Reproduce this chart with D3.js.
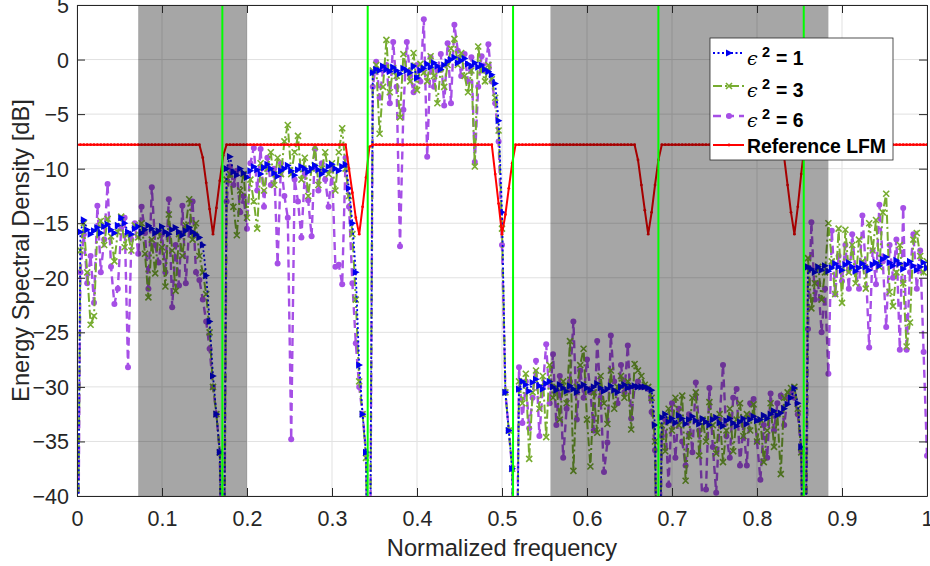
<!DOCTYPE html>
<html><head><meta charset="utf-8">
<script src="https://cdn.jsdelivr.net/npm/d3@7"></script>
<style>body{margin:0;background:#fff}</style>
</head><body><svg id="chart" width="930" height="566"></svg>
<script>
// ---------------- DATA ----------------
const freqStep = 0.004;
const bandStartFreq = [0.000, 0.176, 0.348, 0.520, 0.688, 0.860];

const eps1 = [
 [-60,-15.8,-14.7,-15.6,-16.0,-15.7,-15.4,-15.9,-15.3,-15.1,-15.6,-15.9,-15.2,-14.5,-15.0,-15.8,-16.0,-15.5,-15.3,-15.9,-15.6,-15.2,-15.5,-15.9,-15.7,-15.3,-15.8,-16.0,-15.6,-15.4,-15.8,-16.1,-15.7,-15.4,-15.8,-16.0,-16.3,-17.0,-19.8,-24.0,-29.0,-32.5,-36.0,-60],
 [-10.0,-8.9,-10.3,-10.6,-10.0,-10.4,-10.8,-10.2,-9.8,-10.1,-10.5,-9.9,-9.6,-10.0,-10.4,-10.7,-10.2,-10.0,-9.7,-10.2,-10.6,-10.1,-9.8,-10.0,-10.3,-10.0,-9.7,-10.1,-10.5,-10.2,-9.8,-9.6,-10.0,-10.2,-9.8,-9.6,-11.8,-15.0,-19.5,-28.0,-32.5,-36.0,-60],
 [-1.2,-0.9,-1.0,-0.6,-0.9,-1.1,-0.7,-1.0,-1.3,-0.8,-1.0,-1.2,-0.6,-1.7,-1.0,-0.8,-0.4,-0.7,-0.3,-0.6,-0.9,-0.5,-0.2,0.0,0.2,-0.3,-0.1,0.1,-0.4,-0.6,-0.3,-0.7,-0.5,-0.9,-1.1,-1.4,-2.2,-5.6,-14.0,-30.5,-34.0,-37.5,-60],
 [-30.2,-29.5,-29.8,-30.4,-29.6,-29.3,-29.9,-30.2,-29.7,-29.5,-30.0,-30.3,-29.8,-30.1,-30.4,-29.9,-30.2,-30.5,-30.0,-29.8,-30.1,-30.3,-30.0,-29.7,-30.1,-30.4,-30.2,-29.9,-30.3,-30.5,-30.0,-29.8,-30.1,-30.0,-29.9,-30.0,-30.0,-30.0,-30.1,-30.3,-33.5,-60],
 [-32.8,-32.5,-33.2,-32.9,-33.3,-32.6,-32.9,-33.4,-33.0,-32.7,-33.1,-33.4,-32.9,-33.2,-33.5,-33.0,-32.8,-33.3,-33.6,-33.1,-32.9,-33.3,-33.6,-33.2,-32.9,-33.4,-33.0,-32.7,-33.1,-33.0,-32.6,-32.9,-32.5,-32.2,-32.6,-32.4,-32.0,-31.6,-31.0,-30.1,-31.5,-35.5,-60],
 [-19.0,-19.2,-19.5,-19.0,-19.3,-18.9,-19.4,-19.1,-18.7,-19.0,-19.3,-18.8,-18.6,-19.0,-19.4,-19.1,-18.7,-19.0,-19.3,-18.8,-18.6,-18.9,-18.3,-18.1,-18.6,-18.9,-18.4,-18.7,-19.2,-18.8,-18.5,-18.9,-19.3,-19.0,-18.6,-19.1]
];

const eps3 = [
 [-60,-17.5,-15.0,-19.5,-24.3,-23.5,-15.5,-14.8,-17.0,-14.6,-16.2,-18.5,-15.8,-14.4,-17.2,-16.0,-17.5,-15.2,-16.3,-15.0,-17.8,-21.8,-16.5,-19.6,-15.8,-17.2,-20.8,-14.2,-17.5,-21.2,-16.0,-18.0,-15.2,-12.8,-16.5,-15.0,-18.0,-19.5,-21.5,-25.0,-30.0,-32.5,-36.0,-60],
 [-11.0,-10.5,-13.5,-16.1,-12.0,-10.5,-14.5,-11.0,-13.0,-15.5,-9.5,-12.0,-10.0,-8.5,-11.5,-9.0,-10.5,-7.5,-6.0,-10.5,-8.5,-7.0,-11.0,-9.0,-12.5,-10.0,-8.0,-11.5,-10.0,-8.5,-10.5,-9.5,-12.0,-8.5,-6.3,-10.0,-12.5,-16.0,-22.0,-29.5,-32.5,-36.5,-60],
 [-1.0,-0.5,-6.8,-2.5,1.8,-3.0,-0.8,-1.5,-5.3,0.5,-1.0,-2.0,0.6,-2.8,-0.4,-1.2,-2.0,0.3,-1.5,-4.0,-0.8,-2.5,-0.5,1.0,1.9,-0.5,0.6,-1.5,-3.0,-1.0,-9.8,1.2,-1.0,-2.0,-0.5,-1.8,-3.5,-6.5,-15.5,-30.5,-34.0,-37.5,-60],
 [-29.5,-31.5,-28.8,-36.6,-30.5,-28.5,-32.0,-29.0,-34.6,-28.0,-31.0,-30.0,-33.0,-29.5,-31.5,-25.8,-37.7,-30.0,-28.0,-26.5,-33.0,-37.3,-30.5,-34.2,-29.0,-31.5,-33.4,-28.5,-32.0,-30.0,-29.0,-31.0,-29.5,-33.9,-27.9,-28.5,-29.0,-29.8,-30.0,-31.0,-35.0,-60],
 [-33.5,-35.9,-32.0,-34.0,-31.0,-33.5,-30.8,-38.6,-34.5,-31.0,-30.5,-36.3,-33.0,-35.0,-31.4,-33.5,-36.1,-32.5,-36.9,-34.0,-32.0,-35.9,-33.0,-31.5,-34.5,-32.5,-34.0,-31.6,-35.0,-33.0,-36.9,-34.0,-31.5,-35.5,-32.5,-38.0,-31.0,-30.5,-30.1,-30.0,-32.0,-36.0,-60],
 [-18.2,-22.8,-20.5,-19.0,-22.0,-19.5,-15.0,-18.5,-21.5,-15.5,-22.3,-15.6,-19.5,-17.0,-20.5,-16.5,-18.5,-21.0,-15.0,-17.5,-14.7,-19.0,-14.0,-12.3,-21.3,-22.6,-19.5,-17.0,-20.5,-26.3,-24.1,-16.5,-15.9,-18.0,-19.5,-18.5]
];

const eps6 = [
 [-60,-19.5,-16.0,-20.5,-18.0,-22.3,-13.4,-19.5,-16.5,-11.4,-19.0,-22.4,-21.0,-15.5,-14.5,-28.2,-16.5,-15.0,-17.8,-13.5,-15.9,-21.0,-11.7,-17.0,-18.6,-16.0,-19.5,-12.8,-22.7,-17.0,-20.7,-13.4,-20.5,-15.5,-13.0,-19.5,-20.2,-22.0,-24.0,-26.5,-30.0,-32.5,-36.0,-60],
 [-13.0,-9.8,-11.5,-10.2,-14.0,-12.5,-15.5,-9.5,-8.1,-12.0,-8.2,-13.5,-9.0,-11.5,-10.0,-18.7,-9.5,-12.5,-14.5,-34.8,-11.0,-13.0,-16.3,-10.5,-12.9,-16.2,-8.2,-12.0,-9.5,-11.0,-13.5,-10.0,-19.0,-18.8,-20.6,-9.0,-13.5,-20.5,-26.0,-30.0,-32.5,-36.0,-60],
 [-2.5,-0.2,-3.5,-1.0,-0.5,-4.0,1.6,-2.5,-17.1,-4.6,1.6,-1.5,-3.0,-0.5,-2.0,3.7,-8.9,0.2,-2.5,-1.0,0.5,-4.2,1.5,-4.0,3.2,0.8,-1.5,0.5,-2.0,0.2,-9.4,-2.5,0.3,-1.0,1.4,-2.0,-4.0,-7.5,-17.0,-30.5,-34.0,-37.5,-60],
 [-28.2,-33.3,-29.5,-33.8,-31.0,-27.6,-34.5,-30.0,-26.1,-31.5,-27.0,-33.5,-29.0,-36.5,-32.0,-29.5,-24.0,-33.0,-28.5,-31.0,-27.5,-30.5,-34.0,-25.8,-31.0,-37.8,-35.1,-25.3,-29.5,-31.5,-28.0,-30.5,-26.2,-32.9,-30.0,-29.5,-30.0,-30.0,-30.2,-32.3,-35.8,-60],
 [-34.5,-33.0,-39.0,-31.5,-36.5,-32.0,-35.0,-37.2,-32.5,-36.0,-29.6,-34.0,-41.0,-39.4,-30.1,-35.5,-39.7,-33.0,-28.0,-34.5,-36.5,-31.0,-30.2,-37.2,-33.5,-37.2,-31.5,-31.1,-35.0,-38.5,-33.5,-36.5,-30.6,-34.0,-31.5,-30.8,-33.5,-31.0,-30.5,-31.0,-32.5,-35.9,-60],
 [-24.7,-14.9,-22.0,-20.5,-25.0,-21.0,-28.8,-15.7,-21.5,-18.0,-20.3,-17.0,-21.0,-16.0,-19.5,-21.0,-14.3,-19.0,-26.4,-17.5,-20.6,-13.3,-18.5,-24.5,-17.0,-20.0,-16.5,-26.6,-13.6,-26.6,-19.5,-16.0,-21.0,-17.5,-26.8,-36.3]
];

// Reference LFM on the full grid (0 .. 1, step freqStep)
const lfmDb = [
 -7.8,-7.8,-7.8,-7.8,-7.8,-7.8,-7.8,-7.8,-7.8,-7.8,-7.8,-7.8,
 -7.8,-7.8,-7.8,-7.8,-7.8,-7.8,-7.8,-7.8,-7.8,-7.8,-7.8,-7.8,
 -7.8,-7.8,-7.8,-7.8,-7.8,-7.8,-7.8,-7.8,-7.8,-7.8,-7.8,-7.8,-7.8,
 -9.0,-11.3,-13.7,-16.0,-13.6,-11.1,-8.8,
 -7.8,-7.8,-7.8,-7.8,-7.8,-7.8,-7.8,-7.8,-7.8,-7.8,-7.8,-7.8,
 -7.8,-7.8,-7.8,-7.8,-7.8,-7.8,-7.8,-7.8,-7.8,-7.8,-7.8,-7.8,
 -7.8,-7.8,-7.8,-7.8,-7.8,-7.8,-7.8,-7.8,-7.8,-7.8,-7.8,-7.8,
 -10.0,-12.2,-14.5,-16.0,-13.5,-10.8,-8.0,
 -7.8,-7.8,-7.8,-7.8,-7.8,-7.8,-7.8,-7.8,-7.8,-7.8,-7.8,-7.8,
 -7.8,-7.8,-7.8,-7.8,-7.8,-7.8,-7.8,-7.8,-7.8,-7.8,-7.8,-7.8,
 -7.8,-7.8,-7.8,-7.8,-7.8,-7.8,-7.8,-7.8,-7.8,-7.8,-7.8,-7.8,
 -10.5,-13.2,-16.0,-14.2,-11.8,-9.5,
 -7.8,-7.8,-7.8,-7.8,-7.8,-7.8,-7.8,-7.8,-7.8,-7.8,-7.8,-7.8,
 -7.8,-7.8,-7.8,-7.8,-7.8,-7.8,-7.8,-7.8,-7.8,-7.8,-7.8,-7.8,
 -7.8,-7.8,-7.8,-7.8,-7.8,-7.8,-7.8,-7.8,-7.8,-7.8,-7.8,-7.8,
 -9.2,-11.5,-13.8,-16.0,-14.0,-11.5,-9.2,
 -7.8,-7.8,-7.8,-7.8,-7.8,-7.8,-7.8,-7.8,-7.8,-7.8,-7.8,-7.8,
 -7.8,-7.8,-7.8,-7.8,-7.8,-7.8,-7.8,-7.8,-7.8,-7.8,-7.8,-7.8,
 -7.8,-7.8,-7.8,-7.8,-7.8,-7.8,-7.8,-7.8,-7.8,-7.8,-7.8,-7.8,
 -9.0,-11.5,-14.0,-16.0,-13.5,-10.5,
 -7.8,-7.8,-7.8,-7.8,-7.8,-7.8,-7.8,-7.8,-7.8,-7.8,-7.8,-7.8,
 -7.8,-7.8,-7.8,-7.8,-7.8,-7.8,-7.8,-7.8,-7.8,-7.8,-7.8,-7.8,
 -7.8,-7.8,-7.8,-7.8,-7.8,-7.8,-7.8,-7.8,-7.8,-7.8,-7.8,-7.8,-7.8
];

const guardBands = [[0.072, 0.200], [0.557, 0.884]];
const subbandEdges = [0.171, 0.342, 0.513, 0.684, 0.855];
const xTicks = [0, 0.1, 0.2, 0.3, 0.4, 0.5, 0.6, 0.7, 0.8, 0.9, 1];
const yTicks = [-40, -35, -30, -25, -20, -15, -10, -5, 0, 5];
const epsLabels = ["1", "3", "6"];
const refLabel = "Reference LFM";
const xTitle = "Normalized frequency";
const yTitle = "Energy Spectral Density [dB]";

// ---------------- CHART ----------------
const W = 930, H = 566;
const M = {left: 77, right: 927, top: 5, bottom: 496};
const FONT = "'Liberation Sans', Arial, Helvetica, sans-serif";
const AXC = "#262626";
const x = d3.scaleLinear().domain([0, 1]).range([M.left, M.right]);
const y = d3.scaleLinear().domain([-40, 5]).range([M.bottom, M.top]);

const svg = d3.select("#chart");
svg.append("rect").attr("width", W).attr("height", H).attr("fill", "#fff");
svg.append("defs").append("clipPath").attr("id", "plotClip")
  .append("rect").attr("x", M.left).attr("y", M.top)
  .attr("width", M.right - M.left).attr("height", M.bottom - M.top);

// grid
const grid = svg.append("g");
grid.selectAll("line.gx").data(xTicks).join("line").attr("class", "gx")
  .attr("x1", d => x(d)).attr("x2", d => x(d)).attr("y1", M.top).attr("y2", M.bottom)
  .attr("stroke", "#e1e1e1").attr("stroke-width", 1);
grid.selectAll("line.gy").data(yTicks).join("line").attr("class", "gy")
  .attr("y1", d => y(d)).attr("y2", d => y(d)).attr("x1", M.left).attr("x2", M.right)
  .attr("stroke", "#e1e1e1").attr("stroke-width", 1);

function toPoints(bands) {
  const pts = [];
  bands.forEach((arr, b) => arr.forEach((v, j) => pts.push({f: bandStartFreq[b] + j * freqStep, v})));
  return pts;
}
const lfmPts = lfmDb.map((v, i) => ({f: i * freqStep, v}));

const line = d3.line().x(d => x(d.f)).y(d => y(d.v));
const plot = svg.append("g").attr("clip-path", "url(#plotClip)");

const series = [
  {data: toPoints(eps6), color: "#A64FE6", dash: "8,5", width: 2.4, marker: "circle"},
  {data: toPoints(eps3), color: "#77AC30", dash: "9,3,2,3", width: 2, marker: "x"},
  {data: toPoints(eps1), color: "#0000F0", dash: "2,2.5", width: 1.8, marker: "tri"}
];

function drawMarker(g, type, color) {
  if (type === "circle") {
    g.append("circle").attr("r", 3).attr("fill", color);
  } else if (type === "x") {
    g.append("path").attr("d", "M-3,-3L3,3M-3,3L3,-3").attr("stroke", color).attr("stroke-width", 1.6).attr("fill", "none");
  } else if (type === "tri") {
    g.append("path").attr("d", "M-3,-3.6L3.8,0L-3,3.6Z").attr("fill", color);
  } else if (type === "dot") {
    g.append("circle").attr("r", 1.4).attr("fill", color);
  }
}

series.forEach(s => {
  plot.append("path").datum(s.data).attr("d", line).attr("fill", "none")
    .attr("stroke", s.color).attr("stroke-width", s.width).attr("stroke-dasharray", s.dash);
  plot.append("g").selectAll("g").data(s.data).join("g")
    .attr("transform", d => `translate(${x(d.f)},${y(d.v)})`)
    .each(function() { drawMarker(d3.select(this), s.marker, s.color); });
});

// reference LFM
plot.append("path").datum(lfmPts).attr("d", line).attr("fill", "none")
  .attr("stroke", "#FF0000").attr("stroke-width", 2);
plot.append("g").selectAll("circle").data(lfmPts).join("circle")
  .attr("cx", d => x(d.f)).attr("cy", d => y(d.v)).attr("r", 1.4).attr("fill", "#FF0000");

// guard-band patches (semi-transparent, on top of data)
svg.append("g").selectAll("rect").data(guardBands).join("rect")
  .attr("x", d => x(d[0])).attr("width", d => x(d[1]) - x(d[0]))
  .attr("y", M.top).attr("height", M.bottom - M.top)
  .attr("fill", "#000").attr("fill-opacity", 0.35);

// sub-band edges
svg.append("g").selectAll("line").data(subbandEdges).join("line")
  .attr("x1", d => x(d)).attr("x2", d => x(d)).attr("y1", M.top).attr("y2", M.bottom)
  .attr("stroke", "#00FF00").attr("stroke-width", 2);

// axes
const fmtX = d => (d === 0 ? "0" : d === 1 ? "1" : d3.format(".1f")(d));
const styleAxis = g => {
  g.select(".domain").attr("stroke", AXC).attr("stroke-width", 1);
  g.selectAll(".tick line").attr("stroke", AXC).attr("stroke-width", 1);
  g.selectAll("text").attr("fill", AXC).attr("font-family", FONT).attr("font-size", 21.5);
};
svg.append("g").attr("transform", `translate(0,${M.bottom})`)
  .call(d3.axisBottom(x).tickValues(xTicks).tickFormat(fmtX).tickSizeInner(-8).tickSizeOuter(0))
  .call(styleAxis)
  .call(g => g.selectAll("text").attr("y", 30).attr("dy", 0));
svg.append("g").attr("transform", `translate(0,${M.top})`)
  .call(d3.axisTop(x).tickValues(xTicks).tickFormat("").tickSizeInner(-8).tickSizeOuter(0))
  .call(styleAxis);
svg.append("g").attr("transform", `translate(${M.left},0)`)
  .call(d3.axisLeft(y).tickValues(yTicks).tickFormat(d3.format("d")).tickSizeInner(-8).tickSizeOuter(0))
  .call(styleAxis)
  .call(g => g.selectAll("text").attr("x", -8).attr("dy", "0.35em"));
svg.append("g").attr("transform", `translate(${M.right},0)`)
  .call(d3.axisRight(y).tickValues(yTicks).tickFormat("").tickSizeInner(-8).tickSizeOuter(0))
  .call(styleAxis);

// axis titles
svg.append("text").attr("x", (M.left + M.right) / 2).attr("y", 556)
  .attr("text-anchor", "middle").attr("font-family", FONT).attr("font-size", 23.7)
  .attr("fill", AXC).text(xTitle);
svg.append("text").attr("transform", `translate(29,${(M.top + M.bottom) / 2}) rotate(-90)`)
  .attr("text-anchor", "middle").attr("font-family", FONT).attr("font-size", 23.7)
  .attr("fill", AXC).text(yTitle);

// legend
const lg = svg.append("g");
lg.append("rect").attr("x", 710).attr("y", 38).attr("width", 183).attr("height", 122)
  .attr("fill", "#fff").attr("stroke", AXC).attr("stroke-width", 0.8);
const legendRows = [
  {s: series[2], sampleY: 53, base: 65, label: epsLabels[0]},
  {s: series[1], sampleY: 86, base: 97, label: epsLabels[1]},
  {s: series[0], sampleY: 116, base: 127, label: epsLabels[2]}
];
legendRows.forEach(r => {
  lg.append("line").attr("x1", 713).attr("x2", 744).attr("y1", r.sampleY).attr("y2", r.sampleY)
    .attr("stroke", r.s.color).attr("stroke-width", r.s.width).attr("stroke-dasharray", r.s.dash);
  const mg = lg.append("g").attr("transform", `translate(729,${r.sampleY})`);
  drawMarker(mg, r.s.marker, r.s.color);
  lg.append("text").attr("x", 747).attr("y", r.base)
    .attr("font-family", "'DejaVu Serif', serif").attr("font-style", "italic")
    .attr("font-size", 19).attr("fill", "#000").text("\u03F5");
  lg.append("text").attr("x", 762).attr("y", r.base - 8)
    .attr("font-family", FONT).attr("font-weight", "bold")
    .attr("font-size", 14.5).attr("fill", "#000").text("2");
  lg.append("text").attr("x", 776).attr("y", r.base)
    .attr("font-family", FONT).attr("font-weight", "bold")
    .attr("font-size", 19.4).attr("fill", "#000").text("= " + r.label);
});
lg.append("line").attr("x1", 713).attr("x2", 744).attr("y1", 145).attr("y2", 145)
  .attr("stroke", "#FF0000").attr("stroke-width", 2);
drawMarker(lg.append("g").attr("transform", "translate(729,145)"), "dot", "#FF0000");
lg.append("text").attr("x", 747).attr("y", 153).attr("font-family", FONT).attr("font-weight", "bold")
  .attr("font-size", 19.4).attr("fill", "#000").text(refLabel);
</script>
</body></html>
